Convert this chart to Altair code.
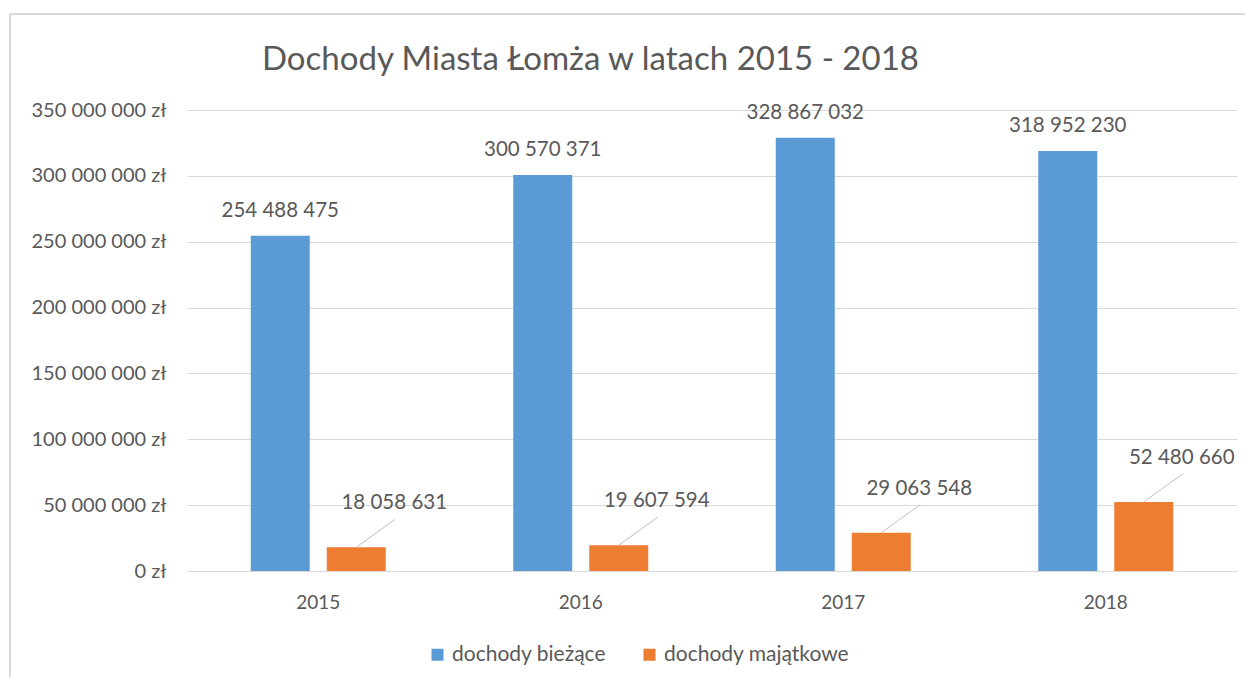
import altair as alt
import pandas as pd

# ---- data ----
years = ["2015", "2016", "2017", "2018"]
series_names = ["dochody bieżące", "dochody majątkowe"]
dochody_biezace = [254488475, 300570371, 328867032, 318952230]
dochody_majatkowe = [18058631, 19607594, 29063548, 52480660]
y_ticks = [0, 50000000, 100000000, 150000000, 200000000, 250000000, 300000000, 350000000]
title_text = "Dochody Miasta Łomża w latach 2015 - 2018"
colors = ["#5B9BD5", "#ED7D31"]

rows = []
for i, yr in enumerate(years):
    rows.append({"rok": yr, "seria": series_names[0], "wartosc": dochody_biezace[i]})
    rows.append({"rok": yr, "seria": series_names[1], "wartosc": dochody_majatkowe[i]})
df = pd.DataFrame(rows)

FONT = "Lato"
TEXT = "#595959"
GRID = "#D9D9D9"
FMT = "replace(format({v}, ','), regexp(',', 'g'), ' ')"

x_enc = alt.X(
    "rok:N",
    sort=years,
    scale=alt.Scale(domain=years, paddingInner=0, paddingOuter=0),
    axis=alt.Axis(
        title=None, labelAngle=0, labelFont=FONT, labelFontSize=19, labelColor=TEXT,
        labelPadding=22, ticks=False, domainColor=GRID, domainWidth=1, grid=False,
    ),
)
y_enc = alt.Y(
    "wartosc:Q",
    scale=alt.Scale(domain=[0, 350000000], nice=False, zero=True),
    axis=alt.Axis(
        title=None, values=y_ticks,
        labelExpr=FMT.format(v="datum.value") + " + ' zł'",
        labelFont=FONT, labelFontSize=20, labelColor=TEXT, labelPadding=21,
        ticks=False, domain=False, gridColor=GRID, gridWidth=1,
    ),
)
color_enc = alt.Color(
    "seria:N",
    scale=alt.Scale(domain=series_names, range=colors),
    legend=alt.Legend(
        title=None, orient="none", legendX=240, legendY=534, direction="horizontal",
        symbolType="square", symbolSize=144, symbolStrokeWidth=0, symbolOpacity=1,
        labelFont=FONT, labelFontSize=21, labelColor=TEXT, labelOffset=4,
        labelLimit=0, columnPadding=32, padding=0,
    ),
)

base = alt.Chart(df).encode(x=x_enc, y=y_enc)
is_b = alt.datum.seria == series_names[0]
is_m = alt.datum.seria == series_names[1]

bars_b = base.transform_filter(is_b).mark_bar(width=59, xOffset=-38).encode(color=color_enc)
bars_m = base.transform_filter(is_m).mark_bar(width=59, xOffset=38).encode(color=color_enc)

labels_b = (
    base.transform_filter(is_b)
    .transform_calculate(etykieta=FMT.format(v="datum.wartosc"))
    .mark_text(xOffset=-38, yOffset=-25, baseline="middle", align="center",
               font=FONT, fontSize=20.5, color=TEXT)
    .encode(text="etykieta:N")
)
labels_m = (
    base.transform_filter(is_m)
    .transform_calculate(etykieta=FMT.format(v="datum.wartosc"))
    .mark_text(xOffset=76, yOffset=-44, baseline="middle", align="center",
               font=FONT, fontSize=20.5, color=TEXT)
    .encode(text="etykieta:N")
)
leaders = (
    base.transform_filter(is_m)
    .mark_rule(xOffset=38, x2Offset=77, y2Offset=-28, color="#BFBFBF", strokeWidth=1)
    .encode(x2=alt.X2("rok"), y2=alt.Y2("wartosc"))
)

frame_src = pd.DataFrame({"k": [0]})
border_left = alt.Chart(frame_src).mark_rule(color=GRID, strokeWidth=2).encode(
    x=alt.value(-177), y=alt.value(-96), y2=alt.value(600)
)
border_top = alt.Chart(frame_src).mark_rule(color=GRID, strokeWidth=2).encode(
    x=alt.value(-177), x2=alt.value(1100), y=alt.value(-96)
)

chart = (
    alt.layer(border_left, border_top, bars_b, bars_m, leaders, labels_b, labels_m)
    .properties(
        width=1050,
        height=461,
        padding={"left": 179, "top": 102, "right": 8, "bottom": 106},
        autosize=alt.AutoSizeParams(type="none"),
        title=alt.TitleParams(
            title_text, anchor="start", dx=253, font=FONT, fontSize=33,
            fontWeight="normal", color=TEXT, offset=-64,
        ),
    )
    .configure_view(stroke=None)
)

chart.save("out.html", embed_options={"renderer": "svg", "actions": False})
